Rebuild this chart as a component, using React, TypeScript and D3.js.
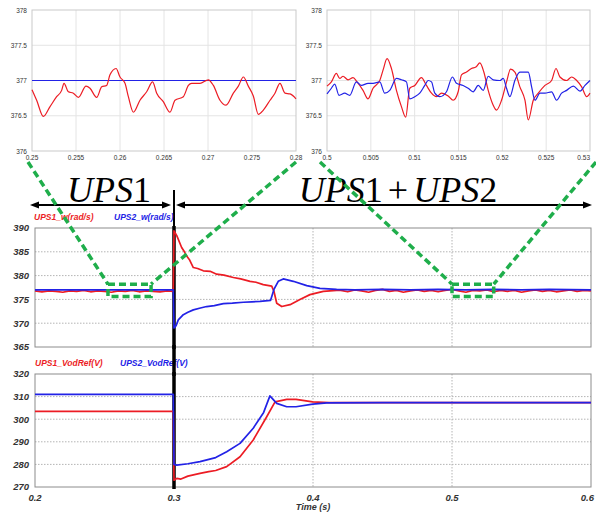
import React from "react";
import * as d3 from "d3";

// ---- data ----
const mainXTicks = [0.2, 0.3, 0.4, 0.5, 0.6];
const wTicks = [365, 370, 375, 380, 385, 390];
const vTicks = [270, 280, 290, 300, 310, 320];
const insetYTicks = [376, 376.5, 377, 377.5, 378];
const insetLXTicks = [0.25, 0.255, 0.26, 0.265, 0.27, 0.275, 0.28];
const insetRXTicks = [0.5, 0.505, 0.51, 0.515, 0.52, 0.525, 0.53];

// zoom 0.25-0.28 s (UPS1 alone)
const insLRedT = [0.25, 0.25053, 0.25129, 0.25205, 0.2528, 0.25337, 0.25364, 0.25413, 0.2547, 0.25527, 0.25614, 0.25659, 0.25735, 0.25792, 0.25848, 0.25886, 0.25955, 0.26, 0.26057, 0.26095, 0.26152, 0.26227, 0.26303, 0.26371, 0.26417, 0.26492, 0.26568, 0.26625, 0.2672, 0.26777, 0.26814, 0.26909, 0.27004, 0.27061, 0.27136, 0.27205, 0.27288, 0.27345, 0.27402, 0.27458, 0.27515, 0.27572, 0.27629, 0.27705, 0.27761, 0.27818, 0.27875, 0.27932, 0.28];
const insLRedV = [376.87, 376.72, 376.49, 376.63, 376.77, 376.86, 376.96, 376.84, 376.82, 376.76, 376.92, 376.89, 376.76, 376.91, 376.93, 377.08, 377.17, 377.05, 376.96, 376.77, 376.55, 376.72, 376.84, 376.98, 376.82, 376.7, 376.55, 376.72, 376.77, 376.93, 376.96, 376.96, 377.01, 376.93, 376.72, 376.65, 376.82, 376.92, 377.05, 376.92, 376.78, 376.52, 376.58, 376.72, 376.82, 376.96, 376.82, 376.81, 376.74];
const insLBlueT = [0.25, 0.28];
const insLBlueV = [377, 377];

// zoom 0.50-0.53 s (UPS1 + UPS2)
const insRRedT = [0.5, 0.5005, 0.50107, 0.50145, 0.50183, 0.5024, 0.50297, 0.50343, 0.50411, 0.50468, 0.50525, 0.50602, 0.5064, 0.50685, 0.50735, 0.50792, 0.50849, 0.50898, 0.50944, 0.51001, 0.51077, 0.51134, 0.51192, 0.51249, 0.51306, 0.51382, 0.51439, 0.51496, 0.51534, 0.51591, 0.51648, 0.51698, 0.51744, 0.51789, 0.51839, 0.51896, 0.51934, 0.51991, 0.52048, 0.52094, 0.52143, 0.522, 0.52258, 0.52296, 0.52353, 0.5241, 0.52486, 0.52562, 0.52612, 0.52657, 0.52733, 0.5279, 0.52848, 0.52905, 0.52962, 0.53];
const insRRedV = [376.92, 376.98, 377.1, 377.03, 377.06, 377.01, 377.04, 376.98, 376.86, 376.74, 376.89, 377.0, 377.15, 377.31, 377.17, 376.86, 376.63, 376.48, 376.89, 376.93, 377.04, 376.93, 376.82, 376.77, 376.82, 376.78, 376.72, 376.84, 377.08, 377.12, 377.17, 377.19, 377.25, 377.12, 376.86, 376.65, 376.58, 376.72, 376.98, 377.16, 377.12, 376.91, 376.72, 376.44, 376.72, 376.82, 376.93, 377.0, 377.17, 377.05, 377.0, 377.05, 377.0, 376.91, 376.77, 376.82];
const insRBlueT = [0.5, 0.5005, 0.50088, 0.50137, 0.50202, 0.50259, 0.50335, 0.50392, 0.50468, 0.50525, 0.50602, 0.50659, 0.50716, 0.50792, 0.50849, 0.50906, 0.50944, 0.51001, 0.51058, 0.51115, 0.51154, 0.51192, 0.5123, 0.51287, 0.51363, 0.51431, 0.51477, 0.51553, 0.5161, 0.51667, 0.51725, 0.51782, 0.51839, 0.51896, 0.51972, 0.5201, 0.52048, 0.52086, 0.52143, 0.522, 0.52239, 0.52296, 0.52334, 0.52372, 0.52429, 0.52486, 0.52562, 0.52619, 0.52676, 0.52733, 0.5281, 0.52886, 0.52943, 0.53];
const insRBlueV = [376.81, 376.89, 376.95, 376.79, 376.82, 376.79, 376.98, 376.93, 376.96, 376.96, 376.98, 376.82, 376.86, 377.03, 377.01, 376.98, 376.74, 376.77, 376.82, 376.93, 377.0, 376.98, 376.82, 376.77, 376.84, 377.05, 376.96, 376.93, 376.89, 376.84, 376.93, 376.86, 377.06, 377.01, 377.0, 377.03, 376.89, 376.77, 377.0, 377.12, 377.12, 377.12, 376.91, 376.72, 376.82, 376.82, 376.84, 376.72, 376.82, 376.86, 376.92, 376.85, 376.93, 377.0];

// UPS1_w / UPS2_w (rad/s)
const wRedT = [0.2, 0.205, 0.21, 0.215, 0.22, 0.225, 0.23, 0.235, 0.24, 0.245, 0.25, 0.255, 0.26, 0.265, 0.27, 0.275, 0.28, 0.285, 0.29, 0.295, 0.2995,
  0.3, 0.302, 0.3055, 0.3075, 0.3091, 0.311, 0.3139, 0.317, 0.3211, 0.326, 0.3307, 0.336, 0.3427, 0.348, 0.3547, 0.359, 0.3642, 0.3703, 0.3719, 0.3739, 0.3775, 0.3835, 0.3906, 0.3978, 0.4074, 0.417,
  0.42, 0.425, 0.43, 0.435, 0.44, 0.445, 0.45, 0.455, 0.46, 0.465, 0.47, 0.475, 0.48, 0.485, 0.49, 0.495, 0.5, 0.505, 0.51, 0.515, 0.52, 0.525, 0.53, 0.535, 0.54, 0.545, 0.55, 0.555, 0.56, 0.565, 0.57, 0.575, 0.58, 0.585, 0.59, 0.595, 0.6];
const wRedV = [376.8, 376.6, 376.8, 376.7, 376.5, 376.8, 376.7, 376.9, 376.6, 376.8, 376.7, 376.5, 376.8, 376.7, 376.9, 376.6, 376.8, 376.7, 376.6, 376.8, 376.7,
  389.4, 388.4, 385.9, 385.0, 384.1, 383.4, 381.7, 381.5, 381.0, 380.9, 380.3, 380.1, 379.6, 379.3, 378.8, 378.6, 378.1, 377.8, 376.7, 374.2, 373.5, 373.9, 375.0, 376.0, 376.7, 376.9,
  376.9, 376.6, 377.0, 376.8, 376.5, 376.9, 377.1, 376.7, 376.9, 376.5, 376.8, 377.0, 376.7, 376.9, 376.6, 376.9, 377.1, 376.8, 376.5, 376.9, 376.8, 377.0, 376.6, 376.9, 376.7, 376.9, 376.5, 376.8, 377.0, 376.7, 376.9, 376.6, 376.8, 377.0, 376.7, 376.9, 376.8];
const wBlueT = [0.2, 0.25, 0.2995, 0.3, 0.3015, 0.3031, 0.3067, 0.31, 0.3139, 0.319, 0.3235, 0.329, 0.3355, 0.342, 0.3499, 0.356, 0.3619, 0.3695, 0.3719, 0.375, 0.3786, 0.3858, 0.3955, 0.405, 0.417, 0.43, 0.45, 0.47, 0.49, 0.51, 0.53, 0.55, 0.57, 0.6];
const wBlueV = [377.0, 377.0, 377.0, 369.0, 369.5, 370.7, 371.8, 372.3, 372.8, 373.2, 373.5, 373.7, 374.1, 374.2, 374.4, 374.5, 374.6, 374.8, 377.1, 378.8, 379.3, 378.8, 377.9, 377.3, 377.1, 377.0, 377.1, 377.0, 377.1, 377.0, 377.1, 377.0, 377.1, 377.0];

// UPS1_VodRef / UPS2_VodRef (V)
const vRedT = [0.2, 0.25, 0.2995, 0.3, 0.302, 0.305, 0.31, 0.3187, 0.325, 0.33, 0.3379, 0.3475, 0.357, 0.3667, 0.3727, 0.3811, 0.3878, 0.3998, 0.4115, 0.45, 0.5, 0.55, 0.6];
const vRedV = [303.5, 303.5, 303.5, 273.0, 273.8, 273.5, 274.8, 276.0, 276.8, 277.3, 279.0, 283.4, 290.8, 301.1, 307.7, 308.8, 308.8, 307.7, 307.3, 307.3, 307.3, 307.3, 307.3];
const vBlueT = [0.2, 0.25, 0.2995, 0.3, 0.302, 0.31, 0.3187, 0.33, 0.3379, 0.3475, 0.357, 0.3645, 0.369, 0.3739, 0.3811, 0.3878, 0.3998, 0.41, 0.45, 0.5, 0.55, 0.6];
const vBlueV = [311.0, 311.0, 311.0, 280.0, 279.7, 280.3, 281.2, 283.0, 285.6, 289.3, 296.0, 303.0, 310.3, 307.0, 305.5, 305.5, 306.7, 307.2, 307.3, 307.3, 307.3, 307.3];

const RED = "#ec1c24";
const BLUE = "#2222e6";
const GREEN = "#1fae4b";
const SANS = "'Liberation Sans', Arial, sans-serif";
const NARROW = "'Liberation Sans Narrow', 'Liberation Sans', Arial, sans-serif";
const SERIF = "'Liberation Serif', 'Times New Roman', serif";

const zip = (t: number[], v: number[]) => t.map((x, i) => [x, v[i]] as [number, number]);

type Series = { t: number[]; v: number[]; color: string };

const xM = d3.scaleLinear().domain([0.2, 0.6]).range([35, 591]);
const yW = d3.scaleLinear().domain([365, 390]).range([347, 228]);
const yV = d3.scaleLinear().domain([270, 320]).range([487, 374]);

function Inset({ left, right, domain, xTicks, series }: { left: number; right: number; domain: [number, number]; xTicks: number[]; series: Series[] }) {
  const top = 10, bottom = 151;
  const x = d3.scaleLinear().domain(domain).range([left, right]);
  const y = d3.scaleLinear().domain([376, 378]).range([bottom, top]);
  const line = d3.line<[number, number]>().x((d) => x(d[0])).y((d) => y(d[1])).curve(d3.curveMonotoneX);
  return (
    <g>
      {xTicks.slice(1, -1).map((t) => (
        <line key={"gx" + t} x1={x(t)} x2={x(t)} y1={top} y2={bottom} stroke="#e4e4e4" />
      ))}
      {insetYTicks.slice(1, -1).map((v) => (
        <line key={"gy" + v} x1={left} x2={right} y1={y(v)} y2={y(v)} stroke="#e4e4e4" />
      ))}
      <rect x={left} y={top} width={right - left} height={bottom - top} fill="none" stroke="#c9c9c9" />
      {series.map((s, i) => (
        <path key={i} d={line(zip(s.t, s.v)) || ""} fill="none" stroke={s.color} strokeWidth={1.2} />
      ))}
      {insetYTicks.map((v) => (
        <text key={"ty" + v} x={left - 5} y={y(v) + 2.5} textAnchor="end" fontSize={6.5} fontFamily={NARROW} fill="#333">{v}</text>
      ))}
      {xTicks.map((t, i) => (
        <text key={"tx" + t} x={x(t)} y={160} textAnchor={i === xTicks.length - 1 && right > 580 ? "end" : "middle"} fontSize={6.5} fontFamily={NARROW} fill="#333">{t}</text>
      ))}
    </g>
  );
}

function Panel({ y, yTicks, series, labels }: { y: d3.ScaleLinear<number, number>; yTicks: number[]; series: Series[]; labels: { text: string; x: number; color: string }[] }) {
  const [b, t] = y.range();
  const [l, r] = xM.range();
  const line = d3.line<[number, number]>().x((d) => xM(d[0])).y((d) => y(d[1]));
  return (
    <g>
      {yTicks.slice(1, -1).map((v) => (
        <line key={"gy" + v} x1={l} x2={r} y1={y(v)} y2={y(v)} stroke="#b4b4b4" strokeDasharray="1.5,1.5" />
      ))}
      {mainXTicks.slice(1, -1).map((v) => (
        <line key={"gx" + v} x1={xM(v)} x2={xM(v)} y1={t} y2={b} stroke="#b4b4b4" strokeDasharray="1.5,1.5" />
      ))}
      <rect x={l} y={t} width={r - l} height={b - t} fill="none" stroke="#8c8c8c" />
      {yTicks.map((v) => (
        <text key={"ty" + v} x={29} y={y(v) + 3.3} textAnchor="end" fontSize={9.5} fontWeight="bold" fontStyle="italic" fontFamily={SANS} fill="#333">{v}</text>
      ))}
      {labels.map((lb) => (
        <text key={lb.text} x={lb.x} y={t - 8} fontSize={8.5} fontWeight="bold" fontStyle="italic" fontFamily={SANS} fill={lb.color}>{lb.text}</text>
      ))}
      <line x1={xM(0.3)} x2={xM(0.3)} y1={t - 2} y2={b + 2} stroke="#000" strokeWidth={3.5} />
      {series.map((s, i) => (
        <path key={i} d={line(zip(s.t, s.v)) || ""} fill="none" stroke={s.color} strokeWidth={1.7} strokeLinejoin="round" />
      ))}
    </g>
  );
}

function Arrow({ x1, x2, y }: { x1: number; x2: number; y: number }) {
  const h = 9, w = 3.5;
  return (
    <g fill="#000">
      <line x1={x1 + h - 1} x2={x2 - h + 1} y1={y} y2={y} stroke="#000" strokeWidth={2} />
      <polygon points={`${x1},${y} ${x1 + h},${y - w} ${x1 + h},${y + w}`} />
      <polygon points={`${x2},${y} ${x2 - h},${y - w} ${x2 - h},${y + w}`} />
    </g>
  );
}

export default function App() {
  const xs = xM(0.3);
  const rl = [xM(0.2525), xM(0.2835)];
  const rr = [xM(0.5), xM(0.53)];
  const ry = [yW(378.2), yW(375.6)];
  return (
    <svg width={596} height={512} style={{ position: "absolute", left: 0, top: 0, background: "#fff" }}>
      <Inset left={32} right={296} domain={[0.25, 0.28]} xTicks={insetLXTicks}
        series={[{ t: insLBlueT, v: insLBlueV, color: BLUE }, { t: insLRedT, v: insLRedV, color: RED }]} />
      <Inset left={327} right={590} domain={[0.5, 0.53]} xTicks={insetRXTicks}
        series={[{ t: insRRedT, v: insRRedV, color: RED }, { t: insRBlueT, v: insRBlueV, color: BLUE }]} />

      <text x={109} y={202} textAnchor="middle" fontFamily={SERIF} fontSize={36}>
        <tspan fontStyle="italic">UPS</tspan><tspan>1</tspan>
      </text>
      <text x={398} y={202} textAnchor="middle" fontFamily={SERIF} fontSize={36}>
        <tspan fontStyle="italic">UPS</tspan><tspan>1</tspan><tspan dx={5}>+</tspan><tspan dx={5} fontStyle="italic">UPS</tspan><tspan>2</tspan>
      </text>
      <Arrow x1={30} x2={171} y={205} />
      <Arrow x1={176} x2={592} y={205} />
      <line x1={xs} x2={xs} y1={190} y2={226} stroke="#000" strokeWidth={2} />

      <Panel y={yW} yTicks={wTicks}
        series={[{ t: wRedT, v: wRedV, color: RED }, { t: wBlueT, v: wBlueV, color: BLUE }]}
        labels={[{ text: "UPS1_w(rad/s)", x: 34, color: RED }, { text: "UPS2_w(rad/s)", x: 114, color: BLUE }]} />
      <Panel y={yV} yTicks={vTicks}
        series={[{ t: vRedT, v: vRedV, color: RED }, { t: vBlueT, v: vBlueV, color: BLUE }]}
        labels={[{ text: "UPS1_VodRef(V)", x: 35, color: RED }, { text: "UPS2_VodRef(V)", x: 120, color: BLUE }]} />
      <line x1={xs} x2={xs} y1={345} y2={376} stroke="#000" strokeWidth={3.5} />

      {mainXTicks.map((t, i) => (
        <text key={t} x={i === mainXTicks.length - 1 ? 594 : xM(t)} y={501} textAnchor={i === mainXTicks.length - 1 ? "end" : "middle"} fontSize={9.5} fontWeight="bold" fontStyle="italic" fontFamily={SANS} fill="#333">{t}</text>
      ))}
      <text x={xM(0.4)} y={510} textAnchor="middle" fontSize={9} fontWeight="bold" fontStyle="italic" fontFamily={SANS} fill="#333">Time (s)</text>

      <g fill="none" stroke={GREEN} strokeWidth={3.5} strokeDasharray="7,4">
        <line x1={28} y1={162} x2={rl[0]} y2={ry[0]} />
        <line x1={296} y1={162} x2={rl[1]} y2={ry[0]} />
        <rect x={rl[0]} y={ry[0]} width={rl[1] - rl[0]} height={ry[1] - ry[0]} />
        <line x1={320} y1={162} x2={rr[0]} y2={ry[0]} />
        <line x1={596} y1={162} x2={rr[1]} y2={ry[0]} />
        <rect x={rr[0]} y={ry[0]} width={rr[1] - rr[0]} height={ry[1] - ry[0]} />
      </g>
    </svg>
  );
}
